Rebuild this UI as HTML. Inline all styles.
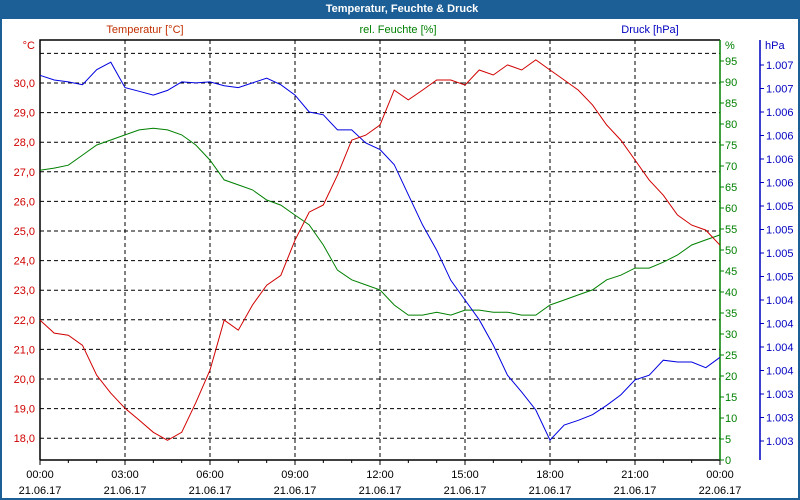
<!DOCTYPE html>
<html><head><meta charset="utf-8"><style>
html,body{margin:0;padding:0;background:#fff}
#wrap{position:relative;width:800px;height:500px;box-sizing:border-box;border:2px solid #1c5f96;border-top:none;overflow:hidden}
#title{position:absolute;left:0;top:0;width:800px;height:19px;background:#1c5f96;color:#fff;font:bold 11px "Liberation Sans",sans-serif;text-align:center;line-height:18px}
svg{position:absolute;left:-2px;top:0}
text{font-family:"Liberation Sans",sans-serif;font-size:11px}
</style></head><body>
<div id="wrap">
<div id="title">Temperatur, Feuchte &amp; Druck</div>
<svg id="chart" width="800" height="500"></svg>
</div>
<script>
const hours=[0,0.5,1,1.5,2,2.5,3,3.5,4,4.5,5,5.5,6,6.5,7,7.5,8,8.5,9,9.5,10,10.5,11,11.5,12,12.5,13,13.5,14,14.5,15,15.5,16,16.5,17,17.5,18,18.5,19,19.5,20,20.5,21,21.5,22,22.5,23,23.5,24];
const temperature=[21.99,21.55,21.48,21.14,20.13,19.52,19.01,18.61,18.2,17.93,18.2,19.2,20.3,21.99,21.65,22.5,23.17,23.5,24.69,25.64,25.88,26.89,28.07,28.24,28.58,29.76,29.43,29.76,30.1,30.1,29.93,30.44,30.27,30.61,30.44,30.78,30.44,30.1,29.76,29.26,28.58,28.07,27.4,26.72,26.21,25.54,25.2,25.03,24.52];
const humidity=[69.0,69.5,70.2,72.6,75,76.2,77.4,78.6,79,78.6,77.4,75,71.4,66.7,65.5,64.3,61.9,60.7,58.3,56,51.2,45.2,42.9,41.7,40.5,36.9,34.5,34.5,35.2,34.5,35.7,35.7,35.2,35.2,34.5,34.5,36.9,38.1,39.3,40.5,42.9,44,45.7,45.7,47.1,48.8,51.2,52.4,53.6];
const pressure=[1007.14,1007.09,1007.07,1007.04,1007.2,1007.28,1007.01,1006.97,1006.93,1006.98,1007.07,1007.06,1007.07,1007.03,1007.01,1007.06,1007.11,1007.04,1006.93,1006.75,1006.72,1006.56,1006.56,1006.42,1006.35,1006.19,1005.87,1005.55,1005.28,1004.96,1004.75,1004.54,1004.27,1003.95,1003.77,1003.58,1003.26,1003.42,1003.47,1003.53,1003.63,1003.74,1003.9,1003.95,1004.11,1004.09,1004.09,1004.03,1004.14];
const tempTicks=[18,19,20,21,22,23,24,25,26,27,28,29,30];
const humTicks=[0,5,10,15,20,25,30,35,40,45,50,55,60,65,70,75,80,85,90,95];
const pressTickLabels=["1.007","1.007","1.006","1.006","1.006","1.006","1.005","1.005","1.005","1.005","1.004","1.004","1.004","1.004","1.003","1.003","1.003"];
const xTimes=["00:00","03:00","06:00","09:00","12:00","15:00","18:00","21:00","00:00"];
const xDates=["21.06.17","21.06.17","21.06.17","21.06.17","21.06.17","21.06.17","21.06.17","21.06.17","22.06.17"];

const L=40,R=720,T=40,B=460;
const X=h=>L+h*(R-L)/24;
const YT=t=>83+(30-t)*29.6;
const YH=v=>B-v*(B-T)/100;
const YP=p=>65+(1007.25-p)*94;
const svg=document.getElementById('chart');
const NS='http://www.w3.org/2000/svg';
function mk(tag,attrs,txt){const e=document.createElementNS(NS,tag);for(const k in attrs)e.setAttribute(k,attrs[k]);if(txt!==undefined)e.textContent=txt;svg.appendChild(e);return e;}

// grid horizontal
for(let t=18;t<=31;t++){const y=YT(t);if(y<T+2)continue;
 const g=mk('line',{x1:L,x2:R,y1:y,y2:y,stroke:'#000','stroke-dasharray':'4,3','stroke-width':1});
 
 }
for(let i=1;i<8;i++){const x=X(i*3);
 const g=mk('line',{x1:x,x2:x,y1:T,y2:B,stroke:'#000','stroke-dasharray':'4,3','stroke-width':1});
 
 }
// axes
const ax=mk('path',{d:`M${L},${B}V${T}H${R}`,fill:'none',stroke:'#000','stroke-width':1.5});


const xa=mk('line',{x1:L,x2:R,y1:B,y2:B,stroke:'#000','stroke-width':1.5});


const ga=mk('line',{x1:R,x2:R,y1:T,y2:B,stroke:'#008000','stroke-width':1.5});


const pa=mk('line',{x1:760,x2:760,y1:T,y2:B,stroke:'#0000c0','stroke-width':1.5});


// x ticks
for(let h=0;h<=24;h++){const x=X(h);
 const t=mk('line',{x1:x,x2:x,y1:B,y2:B+(h%3?3:5),stroke:'#000'});
 
 }
xTimes.forEach((s,i)=>{const x=X(i*3);
 const a=mk('text',{x:x,y:478,'text-anchor':'middle',fill:'#000'},s);
 
 
 const b=mk('text',{x:x,y:494,'text-anchor':'middle',fill:'#000'},xDates[i]);
 
 });
// temp labels
tempTicks.forEach(t=>{const e=mk('text',{x:35,y:YT(t)+4,'text-anchor':'end',fill:'#d00000'},t.toFixed(1).replace('.',','));
 
 });
const tu=mk('text',{x:35,y:49,'text-anchor':'end',fill:'#d00000'},'°C');


// humidity labels
humTicks.forEach(v=>{const y=YH(v);
 const t=mk('line',{x1:R,x2:R+4,y1:y,y2:y,stroke:'#008000'});
 
 
 const e=mk('text',{x:725,y:y+4,fill:'#008000'},String(v));
 
 });
const hu=mk('text',{x:725,y:49,fill:'#008000'},'%');


// pressure labels
pressTickLabels.forEach((s,i)=>{const y=65+i*23.5;
 const t=mk('line',{x1:760,x2:764,y1:y,y2:y,stroke:'#0000c0'});
 
 
 const e=mk('text',{x:766,y:y+4,fill:'#0000c0'},s);
 
 });
const pu=mk('text',{x:765,y:49,fill:'#0000c0'},'hPa');


// series titles
const s1=mk('text',{x:145,y:33,'text-anchor':'middle',fill:'#c03000'},'Temperatur [°C]');


const s2=mk('text',{x:398,y:33,'text-anchor':'middle',fill:'#008000'},'rel. Feuchte [%]');


const s3=mk('text',{x:650,y:33,'text-anchor':'middle',fill:'#0000c0'},'Druck [hPa]');


// series
function line(vals,yf,color,name){
 const d=vals.map((v,i)=>(i?'L':'M')+X(hours[i]).toFixed(1)+','+yf(v).toFixed(1)).join('');
 const p=mk('path',{d:d,fill:'none',stroke:color,'stroke-width':1});
 
 }
line(humidity,YH,'#008000','humidity-line');
line(pressure,YP,'#0000e0','pressure-line');
line(temperature,YT,'#d00000','temperature-line');
</script>
</body></html>
